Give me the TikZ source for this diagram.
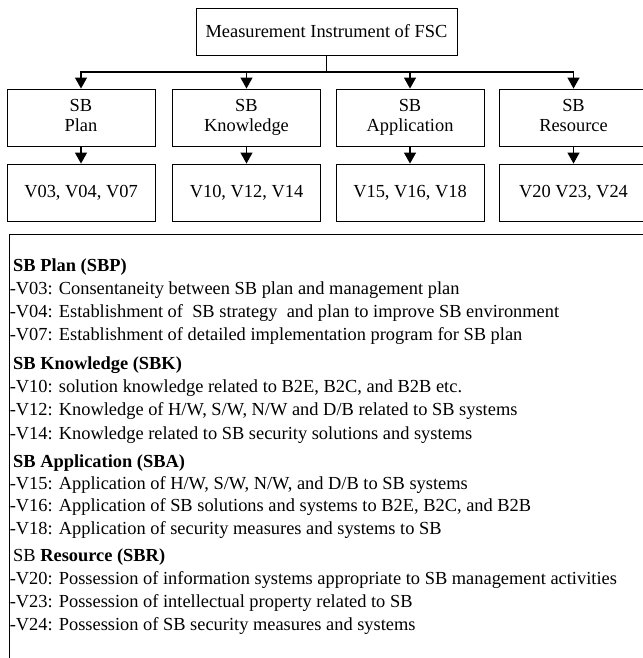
\documentclass[tikz,border=0pt]{standalone}
\usepackage{fontspec}
\setmainfont{Liberation Serif}
\usetikzlibrary{arrows.meta}
\tikzset{>={Triangle[length=11pt,width=12pt]},
    topbox/.style={draw, line width=0.9pt, minimum width=261pt, minimum height=47pt, inner sep=0pt},
    catbox/.style={draw, line width=0.9pt, minimum width=148pt, minimum height=57pt, inner sep=0pt,
        align=center, font=\fontsize{18.4}{20}\selectfont},
    link/.style={line width=1.3pt},
    frame/.style={line width=1.3pt},
    entry/.style={anchor=west, inner sep=0pt},
    heading/.style={entry, font=\fontsize{18.4}{23}\selectfont\bfseries}}

\begin{document}
\begin{tikzpicture}[x=1pt, y=-1pt, font=\fontsize{18.4}{23}\selectfont]
    \useasboundingbox (0,0) rectangle (642,658);
    \node[topbox] at (326.5, 31.5) (fsc) {Measurement Instrument of FSC};
    \node[catbox] at (81, 117.5) (sbp) {\strut SB\\Plan\strut};
    \node[catbox] at (246.5, 117.5) (sbk) {\strut SB\\Knowledge\strut};
    \node[catbox] at (410, 117.5) (sba) {\strut SB\\Application\strut};
    \node[catbox] at (573.5, 117.5) (sbr) {\strut SB\\Resource\strut};
    \node[catbox] at (81, 192.5) (vp) {V03, V04, V07};
    \node[catbox] at (246.5, 192.5) (vk) {V10, V12, V14};
    \node[catbox] at (410, 192.5) (va) {V15, V16, V18};
    \node[catbox] at (573.5, 192.5) (vr) {V20 V23, V24};
    \coordinate (bus) at (326.5, 72);
    \draw[link] (fsc) -- (bus);
    \draw[link, ->] (bus) -| (sbp);
    \draw[link, ->] (bus) -| (sbk);
    \draw[link, ->] (bus) -| (sba);
    \draw[link, ->] (bus) -| (sbr);
    \draw[link, ->] (sbp) -- (vp);
    \draw[link, ->] (sbk) -- (vk);
    \draw[link, ->] (sba) -- (va);
    \draw[link, ->] (sbr) -- (vr);
    % description frame, cut off at the right and bottom
    \draw[frame] (9.5, 234.5) rectangle (700, 700);
    \node[heading] at (13, 267) (hp) {SB Plan (SBP)};
    \node[entry] at (9.6, 290) (v03) {-V03: Consentaneity between SB plan and management plan};
    \node[entry] at (9.6, 313) (v04) {-V04: Establishment of \ SB strategy \ and plan to improve SB environment};
    \node[entry] at (9.6, 336) (v07) {-V07: Establishment of detailed implementation program for SB plan};
    \node[heading] at (13, 365) (hk) {SB Knowledge (SBK)};
    \node[entry] at (9.6, 388) (v10) {-V10: solution knowledge related to B2E, B2C, and B2B etc.};
    \node[entry] at (9.6, 411) (v12) {-V12: Knowledge of H/W, S/W, N/W and D/B related to SB systems};
    \node[entry] at (9.6, 435) (v14) {-V14: Knowledge related to SB security solutions and systems};
    \node[heading] at (13, 463) (ha) {SB Application (SBA)};
    \node[entry] at (9.6, 485) (v15) {-V15: Application of H/W, S/W, N/W, and D/B to SB systems};
    \node[entry] at (9.6, 507) (v16) {-V16: Application of SB solutions and systems to B2E, B2C, and B2B};
    \node[entry] at (9.6, 530) (v18) {-V18: Application of security measures and systems to SB};
    \node[entry] at (13, 557) (hr) {SB \textbf{Resource (SBR)}};
    \node[entry] at (9.6, 580) (v20) {-V20: Possession of information systems appropriate to SB management activities};
    \node[entry] at (9.6, 603) (v23) {-V23: Possession of intellectual property related to SB};
    \node[entry] at (9.6, 626) (v24) {-V24: Possession of SB security measures and systems};
\end{tikzpicture}
\end{document}
